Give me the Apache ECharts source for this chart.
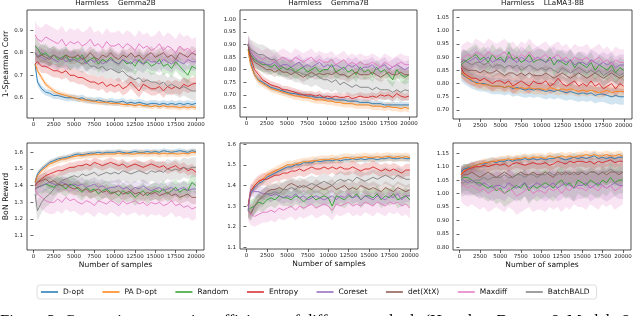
<!DOCTYPE html>
<html><head><meta charset="utf-8">
<script src="https://cdn.jsdelivr.net/npm/echarts@6/dist/echarts.min.js"></script>
<style>html,body{margin:0;padding:0;background:#fff}#c{width:640px;height:316px}</style>
</head><body><div id="c"></div>
<script>
const methods = ['D-opt','PA D-opt','Random','Entropy','Coreset','det(XtX)','Maxdiff','BatchBALD'];
const colors = ['#1f77b4','#ff7f0e','#2ca02c','#d62728','#9467bd','#8c564b','#e377c2','#7f7f7f'];
const titles = ['Harmless    Gemma2B','Harmless    Gemma7B','Harmless    LLaMA3-8B','','',''];
const samples = [200,500,1000,1500,2000,2500,3000,3500,4000,4500,
  5000,5500,6000,6500,7000,7500,8000,8500,9000,9500,
  10000,10500,11000,11500,12000,12500,13000,13500,14000,14500,
  15000,15500,16000,16500,17000,17500,18000,18500,19000,19500,20000];
const xTicks = [0,2500,5000,7500,10000,12500,15000,17500,20000];
const ticksCorr2B = [0.6,0.7,0.8,0.9];
const ticksCorr7B = [0.65,0.70,0.75,0.80,0.85,0.90,0.95,1.00];
const ticksCorr8B = [0.70,0.75,0.80,0.85,0.90,0.95,1.00,1.05];
const ticksBoN2B = [1.1,1.2,1.3,1.4,1.5,1.6];
const ticksBoN7B = [1.1,1.2,1.3,1.4,1.5,1.6];
const ticksBoN8B = [0.80,0.85,0.90,0.95,1.00,1.05,1.10,1.15];

// rows: D-opt, PA D-opt, Random, Entropy, Coreset, det(XtX), Maxdiff, BatchBALD
const corrGemma2B = [
 [0.75,0.67,0.64,0.625,0.62,0.61,0.61,0.605,0.60,0.60, 0.60,0.595,0.60,0.59,0.59,0.585,0.59,0.585,0.58,0.585, 0.58,0.58,0.585,0.575,0.58,0.575,0.58,0.575,0.57,0.575, 0.575,0.57,0.575,0.57,0.575,0.57,0.575,0.57,0.575,0.57,0.575],
 [0.75,0.72,0.69,0.66,0.645,0.63,0.62,0.615,0.61,0.605, 0.60,0.595,0.59,0.59,0.585,0.585,0.58,0.58,0.58,0.575, 0.575,0.575,0.57,0.57,0.57,0.565,0.57,0.565,0.565,0.56, 0.565,0.56,0.565,0.56,0.56,0.56,0.555,0.56,0.555,0.56,0.555],
 [0.83,0.82,0.79,0.80,0.78,0.79,0.77,0.78,0.79,0.76, 0.78,0.77,0.79,0.76,0.77,0.78,0.75,0.77,0.76,0.78, 0.76,0.75,0.77,0.75,0.76,0.74,0.77,0.75,0.76,0.74, 0.75,0.77,0.74,0.75,0.73,0.76,0.74,0.72,0.70,0.74,0.73],
 [0.75,0.76,0.74,0.74,0.73,0.72,0.72,0.71,0.72,0.70, 0.70,0.69,0.69,0.68,0.67,0.67,0.66,0.67,0.65,0.66, 0.65,0.66,0.64,0.65,0.67,0.65,0.63,0.66,0.65,0.64, 0.64,0.65,0.63,0.65,0.64,0.65,0.64,0.66,0.65,0.66,0.665],
 [0.80,0.79,0.78,0.77,0.78,0.77,0.76,0.78,0.76,0.77, 0.77,0.76,0.78,0.75,0.77,0.76,0.77,0.75,0.76,0.77, 0.76,0.75,0.77,0.76,0.75,0.77,0.76,0.75,0.77,0.76, 0.76,0.75,0.77,0.76,0.75,0.77,0.76,0.75,0.77,0.76,0.76],
 [0.80,0.78,0.79,0.78,0.77,0.79,0.78,0.77,0.79,0.78, 0.78,0.79,0.77,0.78,0.80,0.78,0.77,0.79,0.78,0.80, 0.78,0.77,0.79,0.78,0.80,0.78,0.79,0.77,0.79,0.80, 0.78,0.79,0.80,0.78,0.79,0.77,0.80,0.79,0.78,0.80,0.79],
 [0.88,0.86,0.85,0.87,0.86,0.85,0.84,0.86,0.83,0.85, 0.84,0.85,0.83,0.84,0.86,0.83,0.84,0.82,0.85,0.83, 0.83,0.84,0.82,0.84,0.83,0.81,0.84,0.82,0.83,0.81, 0.82,0.84,0.81,0.83,0.82,0.80,0.83,0.81,0.82,0.80,0.81],
 [0.80,0.78,0.80,0.79,0.78,0.79,0.78,0.77,0.78,0.76, 0.77,0.76,0.75,0.76,0.74,0.74,0.73,0.74,0.72,0.73, 0.72,0.71,0.72,0.70,0.69,0.68,0.69,0.67,0.68,0.67, 0.67,0.66,0.67,0.65,0.66,0.65,0.64,0.65,0.64,0.63,0.63]
];
const corrGemma7B = [
 [0.90,0.83,0.78,0.76,0.75,0.74,0.73,0.725,0.72,0.715, 0.71,0.705,0.705,0.70,0.70,0.695,0.695,0.69,0.69,0.69, 0.685,0.685,0.68,0.68,0.68,0.675,0.675,0.675,0.67,0.67, 0.67,0.665,0.665,0.665,0.66,0.66,0.66,0.66,0.66,0.66,0.66],
 [0.88,0.82,0.78,0.755,0.745,0.735,0.725,0.72,0.715,0.71, 0.705,0.70,0.695,0.695,0.69,0.69,0.685,0.68,0.68,0.68, 0.675,0.675,0.67,0.67,0.665,0.665,0.665,0.66,0.66,0.66, 0.66,0.655,0.655,0.655,0.65,0.655,0.65,0.65,0.645,0.65,0.645],
 [0.88,0.86,0.84,0.83,0.82,0.82,0.81,0.82,0.80,0.81, 0.80,0.81,0.79,0.80,0.81,0.79,0.80,0.81,0.79,0.80, 0.80,0.82,0.79,0.80,0.81,0.79,0.80,0.78,0.81,0.79, 0.80,0.78,0.81,0.79,0.80,0.78,0.76,0.80,0.78,0.77,0.78],
 [0.90,0.85,0.80,0.78,0.76,0.75,0.74,0.735,0.73,0.72, 0.72,0.715,0.71,0.705,0.70,0.70,0.70,0.695,0.70,0.69, 0.695,0.69,0.695,0.69,0.69,0.695,0.685,0.69,0.695,0.69, 0.69,0.695,0.69,0.70,0.695,0.70,0.69,0.705,0.695,0.69,0.695],
 [0.90,0.87,0.85,0.83,0.83,0.82,0.82,0.83,0.81,0.82, 0.82,0.81,0.82,0.83,0.81,0.82,0.81,0.82,0.83,0.81, 0.82,0.81,0.82,0.81,0.80,0.82,0.81,0.82,0.80,0.81, 0.81,0.82,0.80,0.81,0.82,0.80,0.81,0.82,0.81,0.80,0.81],
 [0.90,0.86,0.83,0.82,0.81,0.80,0.80,0.79,0.80,0.79, 0.79,0.78,0.79,0.78,0.77,0.78,0.79,0.78,0.785,0.78, 0.785,0.78,0.79,0.78,0.78,0.77,0.78,0.79,0.78,0.78, 0.78,0.79,0.78,0.77,0.78,0.79,0.78,0.78,0.79,0.78,0.78],
 [0.90,0.88,0.86,0.85,0.84,0.85,0.84,0.83,0.84,0.85, 0.84,0.83,0.85,0.84,0.83,0.84,0.85,0.83,0.84,0.83, 0.83,0.84,0.82,0.83,0.84,0.82,0.83,0.82,0.83,0.82, 0.82,0.83,0.82,0.81,0.83,0.82,0.81,0.82,0.83,0.82,0.82],
 [0.90,0.88,0.87,0.86,0.86,0.85,0.84,0.84,0.82,0.81, 0.80,0.80,0.79,0.79,0.78,0.78,0.77,0.78,0.77,0.76, 0.76,0.75,0.76,0.74,0.75,0.74,0.73,0.74,0.73,0.73, 0.73,0.72,0.73,0.72,0.72,0.72,0.71,0.72,0.71,0.72,0.715]
];
const corrLLaMA8B = [
 [0.84,0.83,0.82,0.81,0.805,0.80,0.80,0.795,0.79,0.79, 0.79,0.785,0.79,0.78,0.785,0.78,0.775,0.78,0.775,0.78, 0.775,0.77,0.775,0.77,0.775,0.77,0.765,0.77,0.765,0.76, 0.765,0.76,0.765,0.755,0.76,0.76,0.755,0.75,0.755,0.75,0.75],
 [0.84,0.835,0.82,0.815,0.80,0.80,0.795,0.795,0.79,0.79, 0.79,0.785,0.79,0.785,0.78,0.785,0.78,0.785,0.78,0.78, 0.78,0.775,0.785,0.78,0.775,0.78,0.775,0.78,0.775,0.77, 0.775,0.77,0.775,0.77,0.765,0.77,0.775,0.765,0.77,0.77,0.77],
 [0.87,0.88,0.89,0.90,0.91,0.89,0.90,0.88,0.91,0.89, 0.90,0.88,0.92,0.89,0.90,0.88,0.89,0.91,0.88,0.89, 0.89,0.88,0.90,0.87,0.89,0.88,0.87,0.89,0.86,0.88, 0.87,0.86,0.88,0.85,0.87,0.86,0.85,0.87,0.84,0.86,0.85],
 [0.86,0.84,0.83,0.82,0.82,0.81,0.82,0.81,0.80,0.81, 0.81,0.80,0.81,0.79,0.80,0.81,0.80,0.79,0.81,0.80, 0.80,0.81,0.79,0.80,0.82,0.80,0.79,0.80,0.81,0.79, 0.80,0.79,0.81,0.79,0.80,0.78,0.79,0.80,0.78,0.80,0.79],
 [0.88,0.89,0.88,0.89,0.90,0.88,0.89,0.90,0.88,0.89, 0.89,0.88,0.90,0.89,0.88,0.90,0.89,0.88,0.89,0.90, 0.89,0.88,0.89,0.90,0.88,0.89,0.88,0.89,0.87,0.88, 0.88,0.87,0.89,0.88,0.87,0.88,0.87,0.88,0.86,0.87,0.87],
 [0.87,0.86,0.85,0.85,0.85,0.84,0.85,0.84,0.84,0.85, 0.84,0.83,0.84,0.84,0.83,0.84,0.83,0.84,0.83,0.83, 0.83,0.84,0.83,0.82,0.83,0.84,0.83,0.82,0.83,0.84, 0.83,0.82,0.83,0.84,0.83,0.82,0.83,0.84,0.83,0.82,0.83],
 [0.89,0.90,0.91,0.90,0.92,0.91,0.90,0.92,0.91,0.90, 0.91,0.92,0.90,0.91,0.89,0.91,0.90,0.92,0.90,0.89, 0.90,0.91,0.89,0.90,0.91,0.89,0.90,0.88,0.90,0.89, 0.89,0.90,0.88,0.89,0.90,0.88,0.89,0.87,0.89,0.88,0.88],
 [0.88,0.89,0.88,0.87,0.88,0.88,0.87,0.88,0.86,0.87, 0.87,0.86,0.87,0.86,0.87,0.85,0.86,0.87,0.86,0.85, 0.86,0.85,0.86,0.85,0.84,0.86,0.85,0.84,0.85,0.86, 0.85,0.84,0.85,0.84,0.85,0.83,0.84,0.85,0.84,0.83,0.84]
];
const bonGemma2B = [
 [1.42,1.47,1.50,1.52,1.54,1.55,1.56,1.565,1.57,1.575, 1.585,1.59,1.585,1.59,1.595,1.595,1.60,1.595,1.60,1.60, 1.60,1.605,1.60,1.595,1.60,1.605,1.60,1.60,1.605,1.60, 1.605,1.60,1.61,1.605,1.60,1.605,1.61,1.605,1.60,1.61,1.605],
 [1.42,1.46,1.49,1.51,1.53,1.54,1.55,1.56,1.56,1.57, 1.575,1.58,1.58,1.585,1.585,1.59,1.585,1.59,1.59,1.59, 1.59,1.595,1.59,1.595,1.59,1.59,1.595,1.595,1.59,1.595, 1.595,1.59,1.595,1.59,1.595,1.59,1.59,1.595,1.59,1.60,1.60],
 [1.38,1.39,1.40,1.41,1.40,1.39,1.41,1.40,1.38,1.41, 1.40,1.38,1.36,1.39,1.37,1.38,1.35,1.37,1.38,1.36, 1.36,1.34,1.37,1.35,1.36,1.33,1.35,1.37,1.34,1.36, 1.37,1.36,1.38,1.35,1.37,1.39,1.36,1.38,1.37,1.42,1.40],
 [1.40,1.42,1.44,1.46,1.47,1.48,1.49,1.49,1.50,1.51, 1.51,1.52,1.52,1.53,1.52,1.54,1.53,1.52,1.53,1.54, 1.53,1.52,1.53,1.51,1.52,1.53,1.52,1.51,1.52,1.53, 1.52,1.51,1.52,1.50,1.51,1.52,1.50,1.51,1.49,1.50,1.48],
 [1.38,1.39,1.40,1.41,1.42,1.41,1.40,1.42,1.41,1.40, 1.41,1.40,1.41,1.39,1.40,1.41,1.39,1.40,1.38,1.39, 1.39,1.40,1.38,1.39,1.37,1.39,1.38,1.40,1.38,1.37, 1.38,1.39,1.37,1.38,1.39,1.37,1.38,1.39,1.37,1.38,1.38],
 [1.40,1.42,1.43,1.44,1.42,1.43,1.41,1.40,1.41,1.39, 1.38,1.39,1.37,1.38,1.36,1.37,1.38,1.36,1.37,1.35, 1.36,1.37,1.35,1.36,1.37,1.35,1.36,1.34,1.36,1.35, 1.36,1.34,1.35,1.36,1.34,1.35,1.33,1.34,1.35,1.33,1.33],
 [1.38,1.35,1.33,1.31,1.30,1.30,1.32,1.30,1.33,1.31, 1.32,1.30,1.29,1.31,1.30,1.28,1.31,1.30,1.29,1.31, 1.30,1.28,1.31,1.29,1.30,1.31,1.29,1.30,1.28,1.30, 1.29,1.30,1.28,1.29,1.31,1.28,1.29,1.27,1.28,1.26,1.27],
 [1.35,1.25,1.30,1.33,1.35,1.38,1.41,1.43,1.44,1.45, 1.46,1.45,1.47,1.46,1.47,1.48,1.46,1.47,1.48,1.47, 1.48,1.47,1.49,1.48,1.47,1.48,1.49,1.48,1.47,1.49, 1.48,1.49,1.48,1.50,1.49,1.50,1.49,1.51,1.50,1.51,1.51]
];
const bonGemma7B = [
 [1.30,1.36,1.39,1.41,1.42,1.44,1.45,1.46,1.47,1.48, 1.49,1.49,1.50,1.50,1.51,1.51,1.51,1.52,1.515,1.52, 1.52,1.52,1.525,1.52,1.525,1.525,1.53,1.525,1.53,1.525, 1.53,1.53,1.525,1.53,1.53,1.535,1.53,1.53,1.535,1.53,1.53],
 [1.30,1.37,1.40,1.42,1.43,1.45,1.46,1.47,1.48,1.49, 1.50,1.50,1.505,1.51,1.515,1.515,1.52,1.52,1.525,1.525, 1.525,1.53,1.525,1.53,1.535,1.535,1.53,1.535,1.535,1.54, 1.535,1.535,1.54,1.535,1.54,1.54,1.535,1.54,1.535,1.54,1.535],
 [1.28,1.29,1.30,1.32,1.31,1.33,1.34,1.33,1.35,1.34, 1.34,1.33,1.35,1.34,1.32,1.34,1.35,1.33,1.34,1.35, 1.34,1.30,1.35,1.34,1.33,1.35,1.34,1.36,1.33,1.35, 1.35,1.34,1.36,1.33,1.35,1.34,1.36,1.33,1.34,1.35,1.33],
 [1.30,1.37,1.40,1.42,1.43,1.43,1.44,1.45,1.45,1.46, 1.46,1.47,1.47,1.48,1.47,1.48,1.49,1.48,1.48,1.49, 1.48,1.49,1.48,1.49,1.48,1.48,1.49,1.48,1.47,1.48, 1.48,1.49,1.48,1.47,1.48,1.47,1.48,1.47,1.46,1.475,1.475],
 [1.28,1.38,1.37,1.37,1.36,1.36,1.35,1.36,1.35,1.34, 1.35,1.34,1.36,1.34,1.35,1.33,1.34,1.35,1.34,1.33, 1.34,1.35,1.33,1.35,1.34,1.36,1.34,1.35,1.33,1.35, 1.34,1.33,1.35,1.34,1.33,1.35,1.34,1.36,1.33,1.35,1.35],
 [1.28,1.26,1.30,1.33,1.35,1.37,1.38,1.38,1.39,1.38, 1.40,1.41,1.40,1.39,1.40,1.39,1.38,1.40,1.39,1.38, 1.39,1.40,1.38,1.39,1.40,1.38,1.39,1.38,1.40,1.39, 1.38,1.39,1.38,1.37,1.39,1.38,1.37,1.39,1.38,1.37,1.38],
 [1.28,1.26,1.25,1.26,1.27,1.27,1.28,1.27,1.29,1.28, 1.29,1.30,1.28,1.30,1.29,1.30,1.31,1.29,1.30,1.31, 1.30,1.28,1.31,1.30,1.31,1.32,1.30,1.31,1.30,1.32, 1.31,1.30,1.32,1.31,1.30,1.32,1.31,1.32,1.30,1.31,1.29],
 [1.28,1.27,1.30,1.33,1.34,1.36,1.36,1.37,1.36,1.38, 1.38,1.39,1.38,1.40,1.39,1.40,1.41,1.40,1.41,1.42, 1.41,1.40,1.42,1.43,1.42,1.43,1.42,1.44,1.43,1.42, 1.43,1.44,1.43,1.44,1.45,1.44,1.43,1.45,1.44,1.43,1.43]
];
const bonLLaMA8B = [
 [1.08,1.09,1.095,1.10,1.105,1.11,1.11,1.115,1.12,1.115, 1.12,1.12,1.125,1.12,1.125,1.125,1.13,1.125,1.13,1.125, 1.13,1.125,1.13,1.13,1.135,1.13,1.125,1.13,1.135,1.13, 1.135,1.13,1.135,1.14,1.13,1.135,1.13,1.135,1.13,1.135,1.135],
 [1.07,1.085,1.09,1.10,1.105,1.11,1.115,1.115,1.12,1.12, 1.125,1.125,1.13,1.125,1.13,1.13,1.135,1.13,1.135,1.135, 1.135,1.13,1.14,1.135,1.135,1.14,1.135,1.14,1.135,1.14, 1.14,1.145,1.14,1.145,1.14,1.14,1.145,1.14,1.14,1.145,1.14],
 [1.05,1.06,1.06,1.05,1.04,1.04,1.03,1.02,1.03,1.01, 1.02,1.00,1.01,1.02,1.03,1.02,1.04,1.01,1.03,1.02, 1.03,1.04,1.03,1.02,1.04,1.05,1.03,1.04,1.02,1.05, 1.04,1.03,1.05,1.04,1.03,1.05,1.04,1.06,1.04,1.05,1.05],
 [1.07,1.08,1.09,1.095,1.10,1.10,1.105,1.10,1.105,1.11, 1.105,1.11,1.10,1.11,1.115,1.11,1.105,1.11,1.115,1.11, 1.11,1.115,1.105,1.11,1.12,1.115,1.11,1.12,1.115,1.12, 1.12,1.115,1.12,1.11,1.12,1.115,1.12,1.125,1.115,1.12,1.12],
 [1.05,1.05,1.04,1.05,1.04,1.03,1.04,1.03,1.02,1.03, 1.03,1.02,1.04,1.03,1.02,1.03,1.04,1.02,1.03,1.04, 1.03,1.02,1.03,1.04,1.02,1.03,1.04,1.03,1.02,1.03, 1.03,1.04,1.02,1.03,1.04,1.03,1.02,1.03,1.04,1.03,1.03],
 [1.06,1.07,1.07,1.08,1.07,1.06,1.07,1.08,1.07,1.06, 1.07,1.08,1.07,1.06,1.07,1.08,1.07,1.07,1.08,1.07, 1.07,1.08,1.07,1.06,1.08,1.07,1.08,1.07,1.08,1.07, 1.08,1.07,1.08,1.08,1.07,1.08,1.07,1.08,1.08,1.07,1.08],
 [1.04,1.03,1.02,1.03,1.02,1.01,1.02,1.00,1.01,1.02, 1.01,1.00,1.02,1.01,0.99,1.00,1.01,1.02,1.00,1.01, 1.01,1.00,1.02,1.01,1.02,1.00,1.02,1.01,1.03,1.02, 1.02,1.01,1.03,1.02,1.01,1.03,1.02,1.03,1.01,1.02,1.03],
 [1.04,1.04,1.05,1.04,1.05,1.05,1.06,1.05,1.06,1.06, 1.06,1.07,1.06,1.06,1.07,1.07,1.06,1.07,1.07,1.06, 1.07,1.07,1.08,1.07,1.07,1.08,1.07,1.08,1.07,1.08, 1.08,1.07,1.08,1.08,1.07,1.08,1.08,1.09,1.08,1.08,1.08]
];
// half-width of the shaded band, per method
const bandCorr2B = [0.015,0.012,0.04,0.03,0.04,0.03,0.06,0.04];
const bandCorr7B = [0.012,0.015,0.03,0.015,0.03,0.02,0.035,0.04];
const bandCorr8B = [0.03,0.02,0.04,0.03,0.04,0.03,0.05,0.04];
const bandBoN2B = [0.015,0.02,0.05,0.03,0.04,0.04,0.07,0.06];
const bandBoN7B = [0.015,0.02,0.04,0.03,0.03,0.03,0.05,0.04];
const bandBoN8B = [0.015,0.015,0.05,0.02,0.05,0.04,0.07,0.05];

const panelData = [corrGemma2B, corrGemma7B, corrLLaMA8B, bonGemma2B, bonGemma7B, bonLLaMA8B];
const panelBand = [bandCorr2B, bandCorr7B, bandCorr8B, bandBoN2B, bandBoN7B, bandBoN8B];
const panelTicks = [ticksCorr2B, ticksCorr7B, ticksCorr8B, ticksBoN2B, ticksBoN7B, ticksBoN8B];
const panelDec = [1,2,2,1,1,2];
const yRange = [[0.51,0.99],[0.612,1.037],[0.666,1.078],[1.014,1.656],[1.092,1.606],[0.79,1.188]];
const grids = [
  {left:27, top:10, width:177, height:108},
  {left:240, top:10, width:177, height:107},
  {left:453, top:10, width:179, height:109},
  {left:27, top:143, width:177, height:107},
  {left:240, top:143, width:178, height:106},
  {left:453, top:143, width:178, height:107}
];
const FONT = 'DejaVu Sans';

const xAxes = [], yAxes = [], series = [], titleArr = [];
grids.forEach((g, pi) => {
  g.show = true; g.borderColor = '#222'; g.borderWidth = 0.8; g.backgroundColor = 'transparent';
  xAxes.push({
    type:'value', gridIndex:pi, min:-790, max:20990,
    axisLine:{show:false}, splitLine:{show:false},
    axisTick:{show:true, length:3, lineStyle:{color:'#222', width:0.7}, customValues:xTicks},
    axisLabel:{fontSize:5.5, fontFamily:FONT, color:'#222', margin:4, customValues:xTicks, formatter:v=>String(Math.round(v))},
    name: pi>=3 ? 'Number of samples' : '', nameLocation:'middle', nameGap:11,
    nameTextStyle:{fontSize:7.5, fontFamily:FONT, color:'#111'}
  });
  const d = panelDec[pi];
  yAxes.push({
    type:'value', gridIndex:pi, min:yRange[pi][0], max:yRange[pi][1],
    axisLine:{show:false}, splitLine:{show:false},
    axisTick:{show:true, length:3, lineStyle:{color:'#222', width:0.7}, customValues:panelTicks[pi]},
    axisLabel:{fontSize:5.5, fontFamily:FONT, color:'#222', margin:4, customValues:panelTicks[pi], formatter:v=>Number(v).toFixed(d)},
    name: pi===0 ? '1-Spearman Corr' : (pi===3 ? 'BoN Reward' : ''),
    nameLocation:'middle', nameRotate:90, nameGap:17,
    nameTextStyle:{fontSize:7.8, fontFamily:FONT, color:'#111'}
  });
  if (titles[pi]) titleArr.push({
    text:titles[pi], left:g.left + g.width/2, top:0, textAlign:'center', padding:0,
    textStyle:{fontSize:7.2, fontWeight:'normal', fontFamily:FONT, color:'#111'}
  });
  panelData[pi].forEach((vals, mi) => {
    const w = panelBand[pi][mi];
    const bandRows = samples.map((x,i)=>[x, vals[i]-w, vals[i]+w]);
    series.push({type:'custom', name:'_band', xAxisIndex:pi, yAxisIndex:pi, silent:true,
      encode:{x:0, y:[1,2]}, data: bandRows,
      renderItem: (params, api) => {
        if (params.dataIndex !== 0) return null;
        const pts = [];
        for (let i=0;i<bandRows.length;i++) pts.push(api.coord([bandRows[i][0], bandRows[i][1]]));
        for (let i=bandRows.length-1;i>=0;i--) pts.push(api.coord([bandRows[i][0], bandRows[i][2]]));
        const cs = params.coordSys;
        return {type:'polygon', shape:{points:pts},
          clipPath:{type:'rect', shape:{x:cs.x, y:cs.y, width:cs.width, height:cs.height}},
          style:{fill:colors[mi], opacity:0.2}};
      }});
    series.push({type:'line', name:methods[mi], xAxisIndex:pi, yAxisIndex:pi, silent:true,
      symbol:'none', lineStyle:{width:0.9, color:colors[mi]}, itemStyle:{color:colors[mi]},
      data: samples.map((x,i)=>[x, vals[i]])});
  });
});

const chart = echarts.init(document.getElementById('c'), null, {renderer:'canvas'});
chart.setOption({
  animation:false,
  backgroundColor:'#fff',
  title:titleArr,
  grid:grids, xAxis:xAxes, yAxis:yAxes, series:series,
  legend:{data:methods, left:37, top:285, icon:'rect', itemWidth:17, itemHeight:1.5, itemGap:18.5,
    padding:[3,7,3,4], borderColor:'#d5d5d5', borderWidth:0.8, borderRadius:3,
    textStyle:{fontSize:7.5, fontFamily:FONT, color:'#111'}},
  graphic:[{type:'text', left:0, top:313, style:{
    text:'Figure 3: Comparing annotation efficiency of different methods (Harmless Dataset & Models &',
    font:'16.5px "Liberation Serif"', fill:'#000'}}]
});
</script></body></html>
